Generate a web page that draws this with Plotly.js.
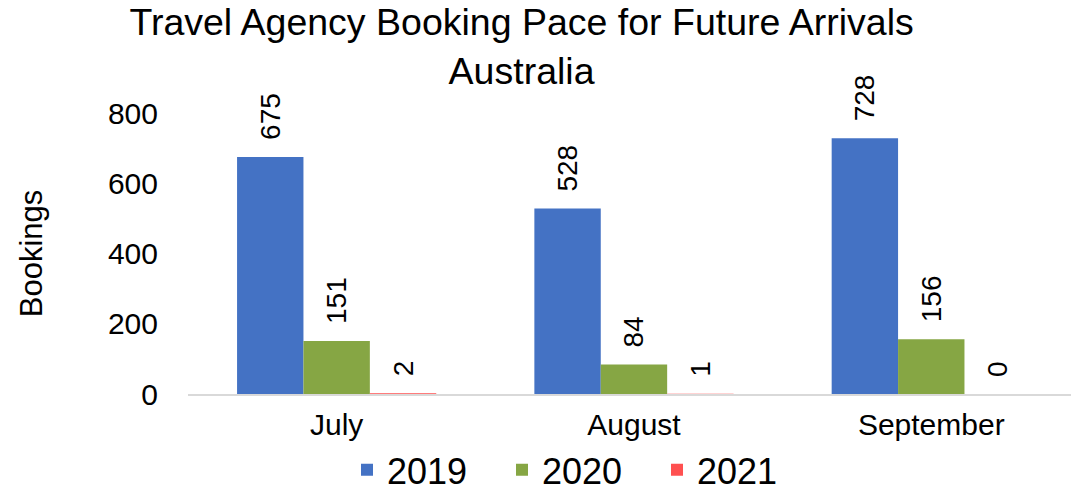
<!DOCTYPE html>
<html>
<head>
<meta charset="utf-8">
<script src="https://cdn.plot.ly/plotly-3.0.1.min.js"></script>
<style>html,body{margin:0;padding:0;background:#fff}#chart{width:1071px;height:492px}</style>
</head>
<body>
<div id="chart"></div>
<script>
const months = ["July", "August", "September"];
const s2019 = [675, 528, 728];
const s2020 = [151, 84, 156];
const s2021 = [2, 1, 0];
const seriesNames = ["2019", "2020", "2021"];
const yTicks = [0, 200, 400, 600, 800];

const colors = ["#4472C4", "#86A644", "#FF5050"];
const FONT = "Liberation Sans, Arial, sans-serif";
const lab = v => v.map(x => "\u2002" + x);

const traces = [s2019, s2020, s2021].map((vals, i) => ({
  type: "bar",
  name: seriesNames[i],
  x: months,
  y: vals,
  text: lab(vals),
  textposition: "outside",
  textangle: -90,
  cliponaxis: false,
  constraintext: "none",
  textfont: {family: FONT, size: 28, color: "#000"},
  marker: {color: colors[i]},
  hoverinfo: "x+y"
}));

const layout = {
  width: 1071, height: 492,
  margin: {l: 188, r: 0, t: 113, b: 98, autoexpand: false},
  paper_bgcolor: "#fff", plot_bgcolor: "#fff",
  font: {family: FONT, color: "#000"},
  title: {
    text: "Travel Agency Booking Pace for Future Arrivals<br>Australia",
    font: {family: FONT, size: 37.5, color: "#000"},
    x: 0.487, xanchor: "center", xref: "container",
    y: 0.929, yanchor: "top", yref: "container",
    automargin: false
  },
  barmode: "group",
  bargap: 0.33,
  bargroupgap: 0,
  xaxis: {
    range: [-0.5, 2.47],
    showline: true, linecolor: "#d9d9d9", linewidth: 2,
    ticks: "", tickfont: {family: FONT, size: 30},
    ticklabelstandoff: 3,
    automargin: false,
    fixedrange: true
  },
  yaxis: {
    range: [0, 800],
    tickvals: yTicks,
    showgrid: false, zeroline: false, showline: false,
    tickfont: {family: FONT, size: 30},
    ticklabelstandoff: 29,
    automargin: false,
    title: {text: "Bookings", font: {family: FONT, size: 31}, standoff: 56},
    fixedrange: true
  },
  showlegend: true,
  legend: {
    orientation: "h",
    xref: "container", yref: "container",
    x: 347 / 1071, xanchor: "left",
    y: 0.045, yanchor: "middle",
    bgcolor: "rgba(0,0,0,0)",
    font: {family: FONT, size: 36},
    itemwidth: 30,
    entrywidth: 110,
    entrywidthmode: "pixels"
  }
};

Plotly.newPlot("chart", traces, layout, {displayModeBar: false, staticPlot: true});
</script>
</body>
</html>
